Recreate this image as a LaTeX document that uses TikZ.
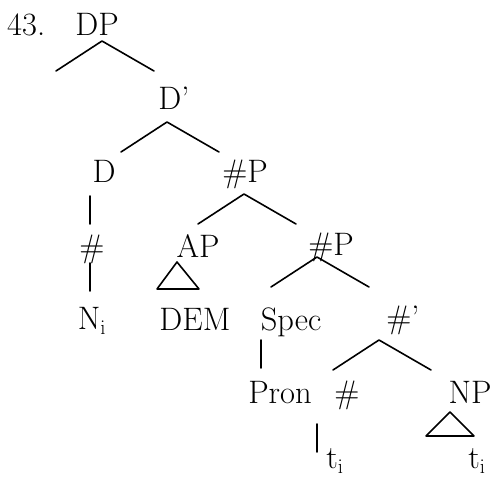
\documentclass[tikz,border=0pt]{standalone}
\usetikzlibrary{calc}

\begin{document}
\begin{tikzpicture}[x=1pt, y=-1pt, line cap=round, line join=round]
	\tikzset{
		lbl/.style={anchor=base, inner sep=0pt, font=\fontsize{32.5}{39}\selectfont},
		edge/.style={line width=1.6pt}
	}
	
	% binary branch hanging from its apex
	\newcommand{\fork}[1]{\draw[edge] (#1) +(-46,30) -- (#1) -- +(52,30);}
	% unary branch
	\newcommand{\stem}[1]{\draw[edge] (#1) -- +(0,28);}
	
	\useasboundingbox (0,0) rectangle (495,477);
	
	\node[lbl, anchor=base west] (ex) at (7,35) {43.};
	
	\node[lbl] (DP)    at (97,35)   {DP};
	\node[lbl] (Dbar)  at (174,109) {D'};
	\node[lbl] (D)     at (104,182) {D};
	\node[lbl] (numP)  at (245,182) {\#P};
	\node[lbl] (num)   at (92,257)  {\#};
	\node[lbl] (AP)    at (198,257) {AP};
	\node[lbl] (numPb) at (331,255) {\#P};
	\node[lbl] (Ni)    at (92,329)  {N$_\mathrm{i}$};
	\node[lbl] (DEM)   at (195,330) {DEM};
	\node[lbl] (Spec)  at (291,330) {Spec};
	\node[lbl] (numbar) at (403,328) {\#'};
	\node[lbl] (Pron)  at (280,403) {Pron};
	\node[lbl] (numb)  at (347,403) {\#};
	\node[lbl] (NP)    at (470,403) {NP};
	\node[lbl] (ta)    at (335,468) {t$_\mathrm{i}$};
	\node[lbl] (tb)    at (477,468) {t$_\mathrm{i}$};
	
	\fork{[shift={(5,6)}]DP.base}
	\fork{[shift={(-7,13)}]Dbar.base}
	\fork{[shift={(-1,12)}]numP.base}
	\fork{[shift={(-14,2)}]numPb.base}
	\fork{[shift={(-24,12)}]numbar.base}
	
	\stem{[shift={(-14,14)}]D.base}
	\stem{[shift={(-2,6)}]num.base}
	\stem{[shift={(-30,10)}]Spec.base}
	\stem{[shift={(-30,21)}]numb.base}
	
	% roofs
	\draw[edge] ([shift={(-21,5)}]AP.base) +(0,0) -- +(-20,27) -- +(22,27) -- cycle;
	\draw[edge] ([shift={(-20,9)}]NP.base) +(0,0) -- +(-24,24) -- +(24,24) -- cycle;
\end{tikzpicture}
\end{document}
